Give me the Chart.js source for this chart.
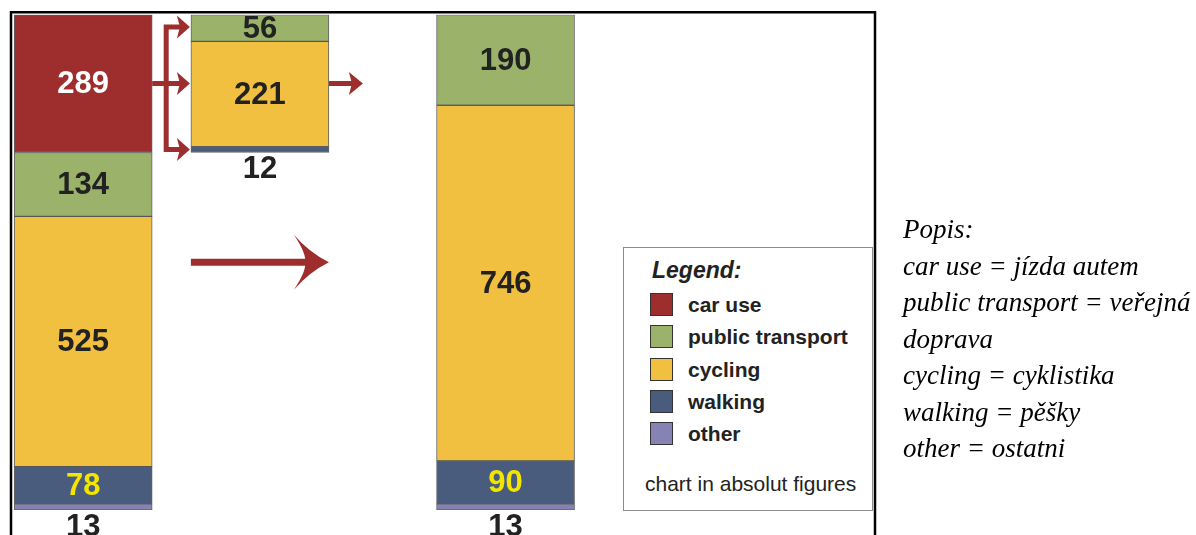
<!DOCTYPE html>
<html>
<head>
<meta charset="utf-8">
<script src="https://cdn.jsdelivr.net/npm/chart.js@4.4.0/dist/chart.umd.min.js"></script>
<style>
  body { margin: 0; background: #fff; }
  #wrap { position: relative; width: 1196px; height: 535px; overflow: hidden; }
  #myChart { position: absolute; left: 0; top: 0; }
  #legendBox {
    position: absolute; left: 623px; top: 247px; width: 250px; height: 264px;
    border: 1px solid #8c8c8c; background: #fff; box-sizing: border-box;
    font-family: "Liberation Sans", Arial, sans-serif; color: #222;
  }
  #legendBox .title { position: absolute; left: 28px; top: 9px; font-size: 23px; font-weight: bold; font-style: italic; }
  #legendBox .item { position: absolute; left: 26px; height: 23px; font-size: 21px; font-weight: bold; line-height: 23px; }
  #legendBox .sw { display: inline-block; width: 23px; height: 23px; border: 1px solid #333; box-sizing: border-box; vertical-align: top; margin-right: 15px; }
  #legendBox .foot { position: absolute; left: 21px; top: 224px; font-size: 21px; }
  #popis {
    position: absolute; left: 903px; top: 211px;
    font-family: "Liberation Serif", "Times New Roman", serif; font-style: italic;
    font-size: 27px; line-height: 36.5px; color: #000;
  }
</style>
</head>
<body>
<div id="wrap">
  <canvas id="myChart" width="1196" height="535"></canvas>
  <div id="legendBox"></div>
  <div id="popis">
    Popis:<br>
    car use = jízda autem<br>
    public transport = veřejná<br>
    doprava<br>
    cycling = cyklistika<br>
    walking = pěšky<br>
    other = ostatni
  </div>
</div>
<script>
// bars: before, part of car users moved, after
const barLabels = ["before", "car users shifted", "after"];
const barX = [0, 1, 2.39];

const carUse = [289, null, null];
const publicTransport = [134, 56, 190];
const cycling = [525, 221, 746];
const walking = [78, 12, 90];
const other = [13, null, 13];

const seriesNames = ["car use", "public transport", "cycling", "walking", "other"];
const seriesColors = ["#9e2e2e", "#9bb26a", "#f2c040", "#4a5c7e", "#8782b4"];
const labelColors = ["#ffffff", "#222222", "#222222", "#f2e600", "#222222"];

// total of the first bar, the shifted bar floats where the car part was
const total = carUse[0] + publicTransport[0] + cycling[0] + walking[0] + other[0];
const shiftBase = [null, total - carUse[0], null];

const toPoints = (arr) => arr.map((v, i) => ({ x: barX[i], y: v }));

const ctx = document.getElementById("myChart");

const dsStyle = {
  borderWidth: 1,
  borderColor: "rgba(70,70,70,0.85)",
  borderSkipped: false,
  barThickness: 138,
};

const data = {
  datasets: [
    { label: "base", data: toPoints(shiftBase), backgroundColor: "rgba(0,0,0,0)", borderWidth: 0, barThickness: 138 },
    { label: seriesNames[4], data: toPoints(other), backgroundColor: seriesColors[4], ...dsStyle },
    { label: seriesNames[3], data: toPoints(walking), backgroundColor: seriesColors[3], ...dsStyle },
    { label: seriesNames[2], data: toPoints(cycling), backgroundColor: seriesColors[2], ...dsStyle },
    { label: seriesNames[1], data: toPoints(publicTransport), backgroundColor: seriesColors[1], ...dsStyle },
    { label: seriesNames[0], data: toPoints(carUse), backgroundColor: seriesColors[0], ...dsStyle },
  ],
};

function arrowHead(c, tipX, y, len, half, notch) {
  c.beginPath();
  c.moveTo(tipX, y);
  c.lineTo(tipX - len, y - half);
  c.lineTo(tipX - len + notch, y);
  c.lineTo(tipX - len, y + half);
  c.closePath();
  c.fill();
}

const valueLabels = {
  id: "valueLabels",
  afterDatasetsDraw(chart) {
    const c = chart.ctx;
    c.save();
    c.font = "bold 31px 'Liberation Sans', Arial, sans-serif";
    c.textAlign = "center";
    c.textBaseline = "middle";
    chart.data.datasets.forEach((ds, di) => {
      if (di === 0) return;
      const sIdx = seriesNames.indexOf(ds.label);
      chart.getDatasetMeta(di).data.forEach((el, i) => {
        const v = ds.data[i].y;
        if (v == null) return;
        const h = Math.abs(el.base - el.y);
        if (h < 12) {
          c.fillStyle = "#222";
          c.fillText(v, el.x, el.base + 17);
        } else {
          c.fillStyle = labelColors[sIdx];
          c.fillText(v, el.x, (el.y + el.base) / 2 + 1);
        }
      });
    });
    c.restore();
  },
};

const arrowsAndFrame = {
  id: "arrowsAndFrame",
  afterDraw(chart) {
    const c = chart.ctx;
    const a = chart.chartArea;
    const carEl = chart.getDatasetMeta(5).data[0];
    const ptMid = chart.getDatasetMeta(4).data[1];
    const walkMid = chart.getDatasetMeta(2).data[1];
    const half = carEl.width / 2;
    const leftRight = carEl.x + half;
    const midLeft = ptMid.x - half;
    const midRight = ptMid.x + half;
    const carY = (carEl.y + carEl.base) / 2;
    const topY = (ptMid.y + ptMid.base) / 2 - 1;
    const botY = (walkMid.y + walkMid.base) / 2;
    const bx = leftRight + 14;

    c.save();
    c.strokeStyle = "#9e2e2e";
    c.fillStyle = "#9e2e2e";
    c.lineWidth = 5;
    c.lineCap = "butt";
    // bracket
    c.beginPath();
    c.moveTo(bx, topY - 2.5);
    c.lineTo(bx, botY + 2.5);
    c.moveTo(leftRight, carY);
    c.lineTo(midLeft - 8, carY);
    c.moveTo(bx - 2.5, topY);
    c.lineTo(midLeft - 8, topY);
    c.moveTo(bx - 2.5, botY);
    c.lineTo(midLeft - 8, botY);
    c.moveTo(midRight, carY);
    c.lineTo(midRight + 26, carY);
    c.stroke();
    [topY, carY, botY].forEach((y) => arrowHead(c, midLeft - 1, y, 13, 11.5, 3));
    arrowHead(c, midRight + 34, carY, 14, 11.5, 3);

    // big arrow between the bars
    const bigY = chart.scales.y.getPixelForValue(total / 2);
    c.lineWidth = 7;
    c.beginPath();
    c.moveTo(midLeft, bigY);
    c.lineTo(midRight - 20, bigY);
    c.stroke();
    c.beginPath();
    c.moveTo(midRight, bigY);
    c.quadraticCurveTo(midRight - 20, bigY - 10, midRight - 35, bigY - 27.5);
    c.quadraticCurveTo(midRight - 22, bigY - 8, midRight - 24, bigY);
    c.quadraticCurveTo(midRight - 22, bigY + 8, midRight - 35, bigY + 27.5);
    c.quadraticCurveTo(midRight - 20, bigY + 10, midRight, bigY);
    c.fill();

    // frame
    c.strokeStyle = "#000";
    c.lineWidth = 2.5;
    c.beginPath();
    c.moveTo(a.left - 1.5, chart.height + 5);
    c.lineTo(a.left - 1.5, a.top - 2.5);
    c.lineTo(a.right + 1, a.top - 2.5);
    c.lineTo(a.right + 1, chart.height + 5);
    c.stroke();
    c.restore();
  },
};

const chart = new Chart(ctx, {
  type: "bar",
  data: data,
  options: {
    responsive: false,
    animation: false,
    layout: { padding: { left: 12.5, right: 322, top: 14.7, bottom: 25 } },
    plugins: {
      legend: { display: false },
      tooltip: { enabled: false },
    },
    scales: {
      x: { type: "linear", stacked: true, display: false, offset: false, min: -0.4, max: 4.475 },
      y: { stacked: true, display: false, min: 0, max: total },
    },
  },
  plugins: [valueLabels, arrowsAndFrame],
});

// legend box
const lb = document.getElementById("legendBox");
let html = '<div class="title">Legend:</div>';
seriesNames.forEach((name, i) => {
  html += '<div class="item" style="top:' + (45 + i * 32.3) + 'px"><span class="sw" style="background:' +
    seriesColors[i] + '"></span>' + name + "</div>";
});
html += '<div class="foot">chart in absolut figures</div>';
lb.innerHTML = html;
</script>
</body>
</html>
